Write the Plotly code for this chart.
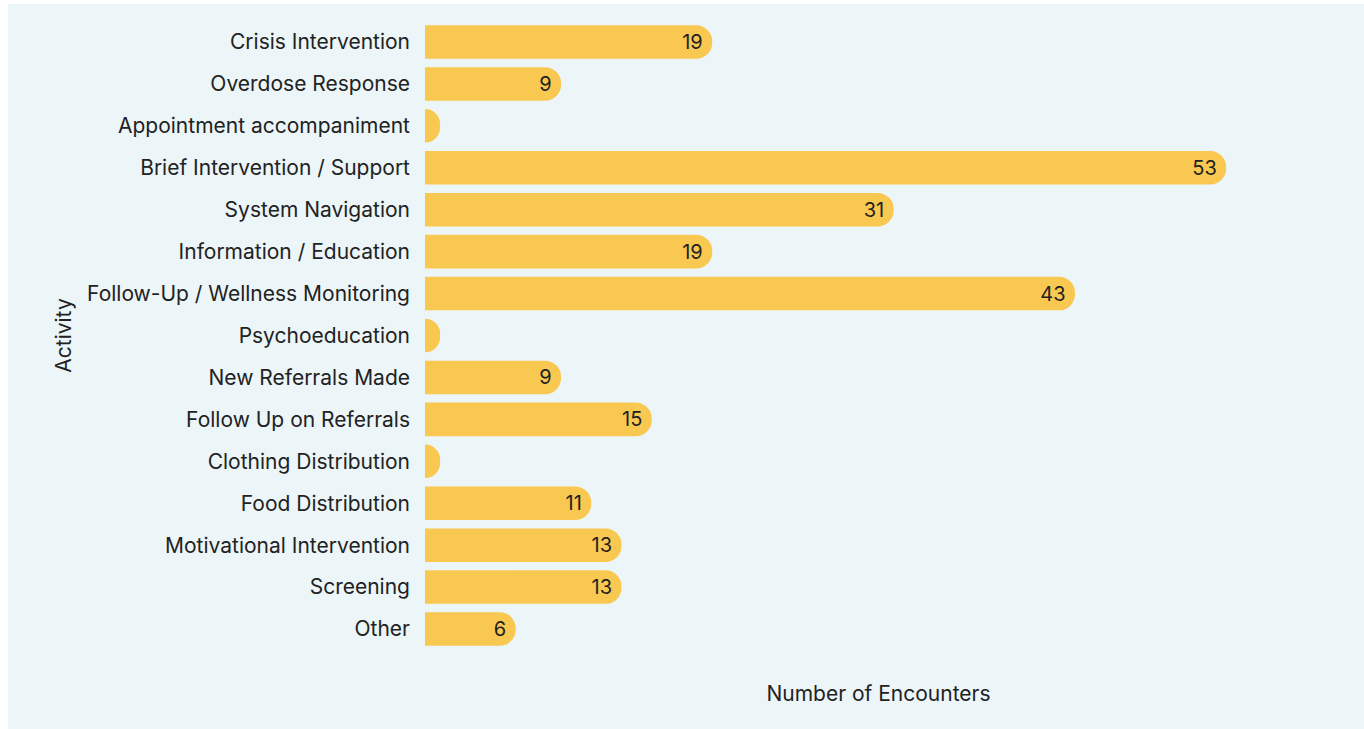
import plotly.graph_objects as go

categories = [
    "Crisis Intervention",
    "Overdose Response",
    "Appointment accompaniment",
    "Brief Intervention / Support",
    "System Navigation",
    "Information / Education",
    "Follow-Up / Wellness Monitoring",
    "Psychoeducation",
    "New Referrals Made",
    "Follow Up on Referrals",
    "Clothing Distribution",
    "Food Distribution",
    "Motivational Intervention",
    "Screening",
    "Other",
]
values = [19, 9, 1, 53, 31, 19, 43, 1, 9, 15, 1, 11, 13, 13, 6]
# labels are not drawn on the tiny bars
bar_labels = [str(v) if v > 1 else "" for v in values]

FONT = "Inter, Noto Sans, sans-serif"
TEXT = "#222222"
BG = "#ECF5F8"
BAR = "#F9C851"

fig = go.Figure(
    go.Bar(
        x=values,
        y=categories,
        orientation="h",
        marker=dict(color=BAR, line=dict(width=0)),
        text=bar_labels,
        textposition="inside",
        insidetextanchor="end",
        textfont=dict(family=FONT, size=20, color=TEXT),
        hoverinfo="x+y",
    )
)

fig.update_layout(
    width=1356,
    height=725,
    margin=dict(l=417, r=32, t=17, b=79),
    paper_bgcolor=BG,
    plot_bgcolor=BG,
    font=dict(family=FONT, size=21, color=TEXT),
    bargap=0.2,
    barcornerradius="50%",
    showlegend=False,
)
fig.update_xaxes(
    range=[0, 60],
    showgrid=False,
    zeroline=False,
    showticklabels=False,
    showline=False,
    title=dict(text="Number of Encounters", standoff=36, font=dict(size=21)),
)
fig.update_yaxes(
    autorange="reversed",
    showgrid=False,
    zeroline=False,
    showline=False,
    ticks="",
    ticklabelstandoff=14,
    title=dict(text="Activity", standoff=9, font=dict(size=21)),
)

fig.write_html(
    "out.html",
    post_script="document.body.style.margin='4px 0 0 8px';",
)
